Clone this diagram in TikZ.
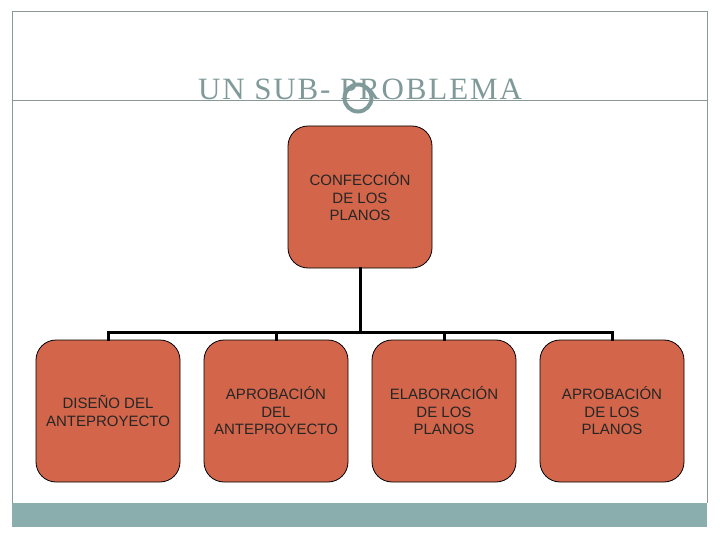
\documentclass[tikz,border=0pt]{standalone}
\usepackage{fontspec}
\setmainfont{Liberation Sans}
\newfontfamily\titlefont[LetterSpace=6]{Liberation Serif}
\begin{document}
\begin{tikzpicture}[x=1pt,y=-1pt,
  box/.style={draw=black, line width=0.8pt, fill=boxfill, rounded corners=20pt,
    minimum width=144pt, minimum height=142pt, inner sep=0pt, align=center,
    font=\fontsize{15}{17.5}\selectfont, text=black!85},
  conn/.style={line width=3pt, line cap=rect}]
\definecolor{boxfill}{HTML}{D2654A}
\definecolor{framegray}{HTML}{8A9898}
\definecolor{bar}{HTML}{8AADAD}
\definecolor{titlegray}{HTML}{809A9A}
\useasboundingbox (0,0) rectangle (720,540);
\fill[white] (0,0) rectangle (720,540);
% frame
\draw[framegray, line width=1pt] (12,503) -- (12,12) -- (707,12) -- (707,503);
\fill[bar] (12,503) rectangle (707,527);
\draw[framegray, line width=1pt] (12,101) -- (707,101);
% title
\node[anchor=base, text=titlegray, font=\titlefont\fontsize{31}{36}\selectfont, inner sep=0pt] (title) at (360,99.5) {UN SUB- PROBLEMA};
\node[circle, draw=titlegray, line width=4pt, minimum size=27pt, inner sep=0pt] (ring) at (358,98) {};
% boxes
\node[box] (top) at (360,197) {CONFECCIÓN\\DE LOS\\PLANOS};
\node[box] (b1) at (108,411) {DISEÑO DEL\\ANTEPROYECTO};
\node[box] (b2) at (276,411) {APROBACIÓN\\DEL\\ANTEPROYECTO};
\node[box] (b3) at (444,411) {ELABORACIÓN\\DE LOS\\PLANOS};
\node[box] (b4) at (612,411) {APROBACIÓN\\DE LOS\\PLANOS};
% connectors
\coordinate (hub) at (360,332);
\draw[conn] (top.south) -- (hub);
\draw[conn] (b1.north) -- (b1.north |- hub) -- (b4.north |- hub) -- (b4.north);
\draw[conn] (b2.north) -- (b2.north |- hub);
\draw[conn] (b3.north) -- (b3.north |- hub);
\end{tikzpicture}
\end{document}
